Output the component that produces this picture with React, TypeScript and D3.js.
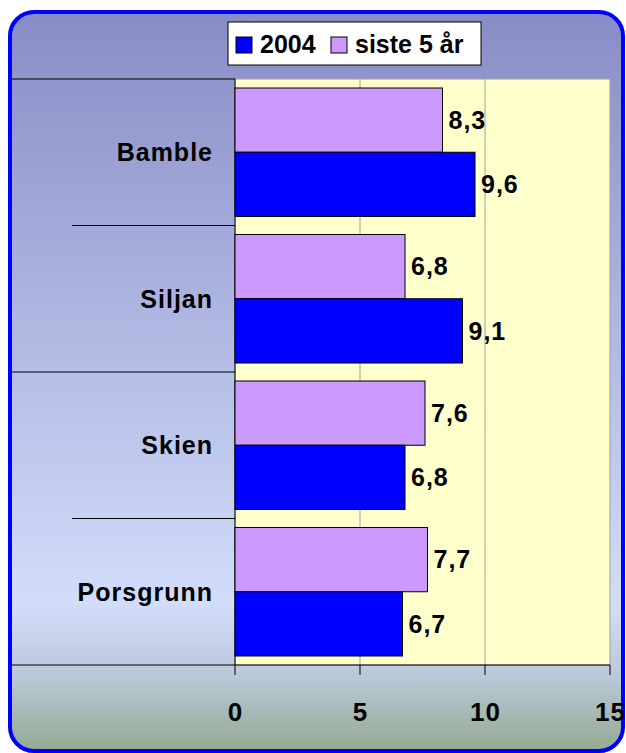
import React from "react";
import * as d3 from "d3";

const categories = ["Bamble", "Siljan", "Skien", "Porsgrunn"];
const series = ["siste 5 år", "2004"];
const legendOrder = ["2004", "siste 5 år"];
const values2004 = [9.6, 9.1, 6.8, 6.7];
const valuesSiste5 = [8.3, 6.8, 7.6, 7.7];
const xTicks = [0, 5, 10, 15];
const colors: Record<string, string> = { "2004": "#0000ff", "siste 5 år": "#cc99ff" };

const W = 626, H = 753;
const plot = { left: 235, right: 610, top: 79, bottom: 665 };
const font = "'Liberation Sans', Arial, sans-serif";
const fs = 25;

export default function App() {
  const x = d3.scaleLinear().domain([0, 15]).range([plot.left, plot.right]);
  const y0 = d3.scaleBand<string>().domain(categories).range([plot.top, plot.bottom]);
  const step = y0.bandwidth();
  const gap = 9;
  const y1 = d3.scaleBand<string>().domain(series).range([gap, step - gap]);
  const data = categories.map((c, i) => ({ c, "2004": values2004[i], "siste 5 år": valuesSiste5[i] }));
  const fmt = (v: number) => d3.format(".1f")(v).replace(".", ",");

  return (
    <svg width={W} height={H} style={{ position: "absolute", left: 0, top: 0 }}>
      <defs>
        <linearGradient id="bg" x1="0" y1="0" x2="0" y2="1">
          <stop offset="0" stopColor="#888cc6" />
          <stop offset="0.8" stopColor="#d2ddfa" />
          <stop offset="0.86" stopColor="#c4cfe8" />
          <stop offset="0.9" stopColor="#b9c8d8" />
          <stop offset="1" stopColor="#93aa90" />
        </linearGradient>
      </defs>
      <rect x={10} y={12} width={613} height={739} rx={24} fill="url(#bg)" stroke="#0000ff" strokeWidth={4} />
      {/* plot area */}
      <rect x={plot.left} y={plot.top} width={plot.right - plot.left} height={plot.bottom - plot.top} fill="#ffffcc" stroke="#a0a0a0" strokeWidth={1} />
      {xTicks.slice(1, -1).map((t) => (
        <line key={t} x1={x(t)} x2={x(t)} y1={plot.top} y2={plot.bottom} stroke="#a0a0a0" strokeWidth={1} />
      ))}
      {/* category separators */}
      {categories.map((c, i) => (
        <line key={"sep" + c} x1={i % 2 === 0 ? 12 : 72} x2={plot.left} y1={y0(c)!} y2={y0(c)!} stroke="#000" strokeWidth={1} />
      ))}
      <line x1={12} x2={plot.right} y1={plot.bottom} y2={plot.bottom} stroke="#000" strokeWidth={1} />
      <line x1={plot.left} x2={plot.left} y1={plot.top} y2={plot.bottom} stroke="#000" strokeWidth={1} />
      {xTicks.map((t) => (
        <g key={"t" + t}>
          <line x1={x(t)} x2={x(t)} y1={plot.bottom} y2={plot.bottom + 10} stroke="#000" strokeWidth={1} />
          <text x={x(t) + 0.5} y={721} textAnchor="middle" fontFamily={font} fontWeight="bold" fontSize={26} letterSpacing={1}>{t}</text>
        </g>
      ))}
      {/* bars */}
      {data.map((d) => (
        <g key={d.c} transform={`translate(0,${y0(d.c)})`}>
          {series.map((s) => {
            const v = (d as any)[s] as number;
            return (
              <g key={s}>
                <rect x={x(0)} y={y1(s)!} width={x(v) - x(0)} height={y1.bandwidth()} fill={colors[s]} stroke="#000" strokeWidth={1} />
                <text x={x(v) + 6} y={y1(s)! + y1.bandwidth() / 2} dy="0.35em" fontFamily={font} fontWeight="bold" fontSize={fs} letterSpacing={1}>{fmt(v)}</text>
              </g>
            );
          })}
          <text x={213} y={step / 2} dy="0.35em" textAnchor="end" fontFamily={font} fontWeight="bold" fontSize={fs} letterSpacing={1}>{d.c}</text>
        </g>
      ))}
      {/* legend */}
      <rect x={228} y={22} width={253} height={43} fill="#fff" stroke="#000" strokeWidth={1} />
      {legendOrder.map((s, i) => {
        const lx = i === 0 ? 236 : 331;
        return (
          <g key={"lg" + s}>
            <rect x={lx} y={37} width={16} height={16} fill={colors[s]} stroke="#000" strokeWidth={1} />
            <text x={lx + 24} y={53} fontFamily={font} fontWeight="bold" fontSize={fs}>{s}</text>
          </g>
        );
      })}
    </svg>
  );
}
